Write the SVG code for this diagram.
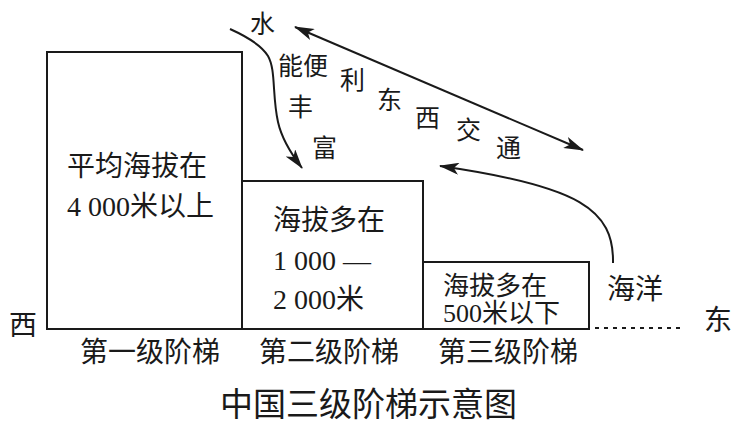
<svg xmlns="http://www.w3.org/2000/svg" width="744" height="428" viewBox="0 0 744 428">
<style>
.box{fill:none;stroke:#1a1a1a;stroke-width:2}
.ln{fill:none;stroke:#1a1a1a;stroke-width:2}
text{font-family:"Liberation Serif","Noto Sans CJK SC",serif;fill:#1a1a1a}
.t{font-size:28px}
.b3{font-size:26px}
.s{font-size:25px}
.ttl{font-size:33px}
</style>
<defs>
<marker id="ah" viewBox="0 0 20 12" refX="19" refY="6" markerWidth="20" markerHeight="12" markerUnits="userSpaceOnUse" orient="auto-start-reverse">
<path d="M0,0 L20,6 L0,12 L5,6 Z" fill="#1a1a1a"/>
</marker>
</defs>
<rect width="744" height="428" fill="#fff"/>
<g id="step1">
<rect class="box" x="47" y="52" width="195" height="277"/>
<text class="t" x="67" y="176">平均海拔在</text>
<text class="t" x="67" y="216">4 000米以上</text>
</g>
<g id="step2">
<rect class="box" x="242" y="181" width="181" height="148"/>
<text class="t" x="273" y="230">海拔多在</text>
<text class="t" x="273" y="270">1 000 —</text>
<text class="t" x="273" y="309">2 000米</text>
</g>
<g id="step3">
<rect class="box" x="423" y="262" width="166" height="67"/>
<text class="b3" x="443" y="295">海拔多在</text>
<text class="b3" x="443" y="322">500米以下</text>
</g>
<g id="ocean">
<text class="t" x="607" y="299">海洋</text>
</g>
<g id="labels">
<text class="t" x="9" y="335">西</text>
<text class="t" x="704" y="330">东</text>
<text class="t" x="80" y="362">第一级阶梯</text>
<text class="t" x="259" y="362">第二级阶梯</text>
<text class="t" x="438" y="362">第三级阶梯</text>
<text class="ttl" x="220" y="416">中国三级阶梯示意图</text>
</g>
<g id="annotations">
<text class="s" x="250" y="33">水</text>
<text class="s" x="278" y="75">能便</text>
<text class="s" x="340" y="89">利</text>
<text class="s" x="288" y="116">丰</text>
<text class="s" x="377" y="109">东</text>
<text class="s" x="415" y="127">西</text>
<text class="s" x="456" y="139">交</text>
<text class="s" x="496" y="157">通</text>
<text class="s" x="312" y="157">富</text>
</g>
<g id="connectors">
<path class="ln" d="M230,29 C250,38 262,46 268,56 C276,70 272,95 278,122 C282,140 292,155 302,168" marker-end="url(#ah)"/>
<line class="ln" x1="295" y1="27" x2="583" y2="150" marker-start="url(#ah)" marker-end="url(#ah)"/>
<path class="ln" d="M613,263 C614,210 580,186 440,166" marker-end="url(#ah)"/>
<line class="ln" x1="595" y1="328" x2="680" y2="328" stroke-dasharray="4,5" stroke-width="1.5"/>
</g>
</svg>
